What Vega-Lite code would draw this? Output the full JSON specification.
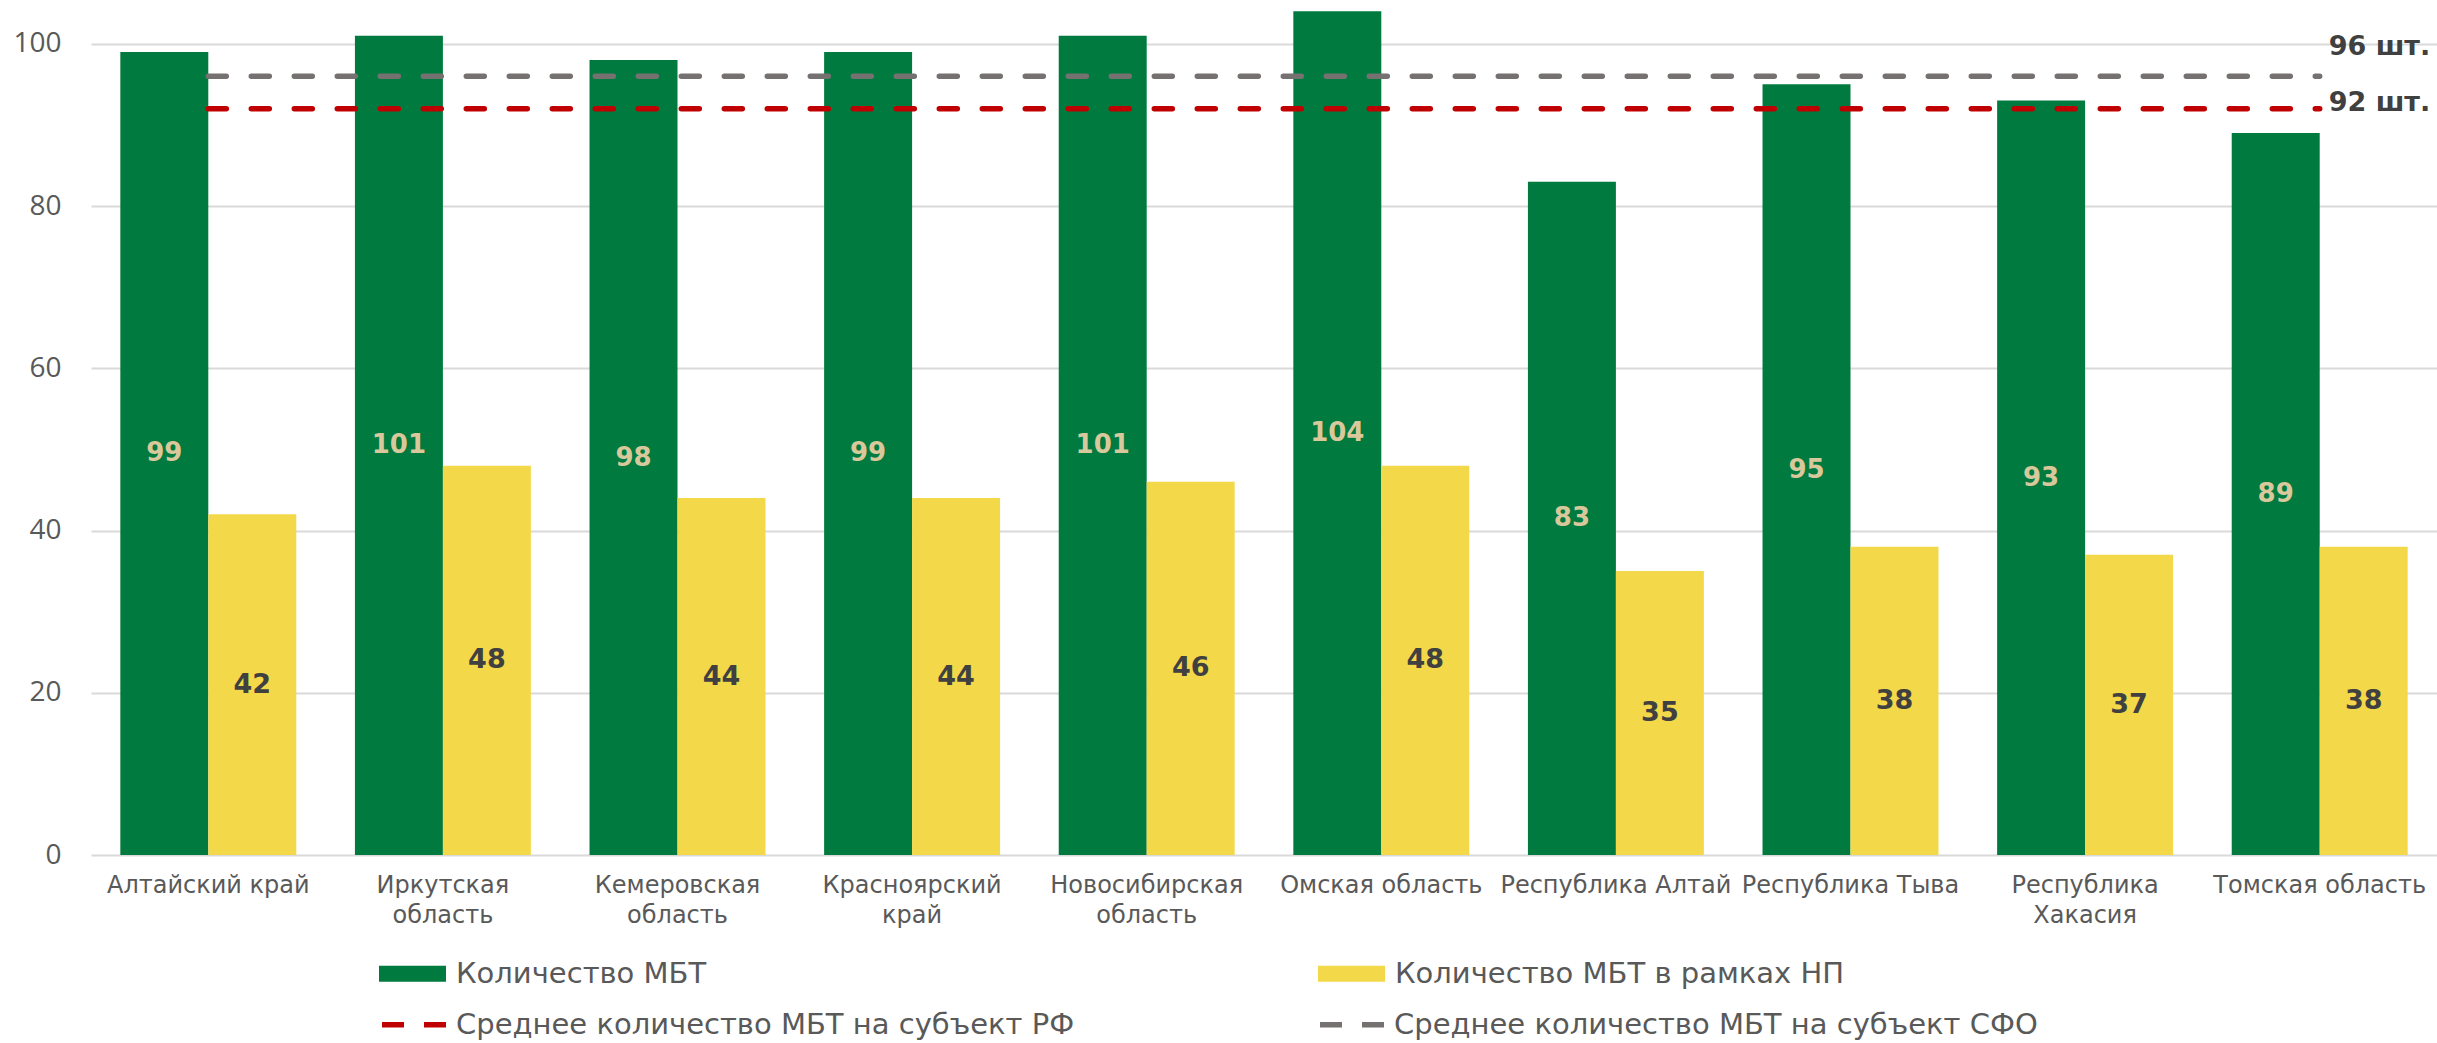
{
  "$schema": "https://vega.github.io/schema/vega-lite/v6.json",
  "autosize": {"type": "none"},
  "padding": {"left": 91, "top": 0, "right": 0, "bottom": 188},
  "width": 2346,
  "height": 855,
  "background": "white",
  "config": {"view": {"stroke": null}, "font": "DejaVu Sans"},
  "datasets": {
    "bars": [
      {"region": "Алтайский край", "Количество МБТ": 99, "Количество МБТ в рамках НП": 42},
      {"region": "Иркутская область", "Количество МБТ": 101, "Количество МБТ в рамках НП": 48},
      {"region": "Кемеровская область", "Количество МБТ": 98, "Количество МБТ в рамках НП": 44},
      {"region": "Красноярский край", "Количество МБТ": 99, "Количество МБТ в рамках НП": 44},
      {"region": "Новосибирская область", "Количество МБТ": 101, "Количество МБТ в рамках НП": 46},
      {"region": "Омская область", "Количество МБТ": 104, "Количество МБТ в рамках НП": 48},
      {"region": "Республика Алтай", "Количество МБТ": 83, "Количество МБТ в рамках НП": 35},
      {"region": "Республика Тыва", "Количество МБТ": 95, "Количество МБТ в рамках НП": 38},
      {"region": "Республика Хакасия", "Количество МБТ": 93, "Количество МБТ в рамках НП": 37},
      {"region": "Томская область", "Количество МБТ": 89, "Количество МБТ в рамках НП": 38}
    ],
    "avg": [
      {"series": "Среднее количество МБТ на субъект РФ", "value": 92, "label": "92 шт."},
      {"series": "Среднее количество МБТ на субъект СФО", "value": 96, "label": "96 шт."}
    ]
  },
  "resolve": {"scale": {"y": "independent"}},
  "layer": [
    {
      "data": {"name": "bars"},
      "transform": [{"fold": ["Количество МБТ", "Количество МБТ в рамках НП"], "as": ["series", "value"]}],
      "mark": {"type": "bar"},
      "encoding": {
        "x": {
          "field": "region", "type": "nominal", "sort": null,
          "scale": {"paddingInner": 0.25, "paddingOuter": 0.125},
          "axis": {
            "title": null, "labelAngle": 0, "ticks": false, "domain": false,
            "labelFont": "DejaVu Sans", "labelFontSize": 24, "labelColor": "#595959",
            "labelPadding": 18, "labelLineHeight": 30, "labelOverlap": false, "labelLimit": 0,
            "labelExpr": "length(datum.label) > 16 ? split(datum.label, ' ') : datum.label"
          }
        },
        "xOffset": {"field": "series", "type": "nominal", "sort": ["Количество МБТ", "Количество МБТ в рамках НП"]},
        "y": {
          "field": "value", "type": "quantitative",
          "scale": {"domain": [0, 105.4], "nice": false},
          "axis": {
            "title": null, "values": [0, 20, 40, 60, 80, 100], "domain": false, "ticks": false,
            "grid": true, "gridColor": "#D9D9D9", "gridWidth": 2,
            "labelFont": "Open Sans", "labelFontSize": 28, "labelColor": "#595959", "labelPadding": 30
          }
        },
        "color": {
          "field": "series", "type": "nominal",
          "scale": {"domain": ["Количество МБТ", "Количество МБТ в рамках НП"], "range": ["#007A3E", "#F3D84A"]},
          "legend": {
            "title": null, "orient": "none", "legendX": 288, "legendY": 940, "direction": "horizontal",
            "padding": 0, "columnPadding": 611,
            "symbolType": "M-1,-0.24H1V0.24H-1Z", "symbolSize": 4489, "symbolStrokeWidth": 0,
            "labelFont": "DejaVu Sans", "labelFontSize": 29, "labelColor": "#595959", "labelOffset": 10, "labelLimit": 0
          }
        }
      }
    },
    {
      "data": {"name": "bars"},
      "transform": [
        {"fold": ["Количество МБТ", "Количество МБТ в рамках НП"], "as": ["series", "value"]},
        {"filter": "datum.series == 'Количество МБТ'"}
      ],
      "mark": {"type": "text", "fontSize": 26, "fontWeight": "bold", "font": "DejaVu Sans", "color": "#D9C89B", "baseline": "middle"},
      "encoding": {
        "x": {"field": "region", "type": "nominal", "sort": null},
        "xOffset": {"field": "series", "type": "nominal", "sort": ["Количество МБТ", "Количество МБТ в рамках НП"]},
        "y": {"field": "value", "type": "quantitative", "scale": {"domain": [0, 210.8], "nice": false}, "axis": null},
        "text": {"field": "value", "type": "quantitative"}
      }
    },
    {
      "data": {"name": "bars"},
      "transform": [
        {"fold": ["Количество МБТ", "Количество МБТ в рамках НП"], "as": ["series", "value"]},
        {"filter": "datum.series == 'Количество МБТ в рамках НП'"}
      ],
      "mark": {"type": "text", "fontSize": 27, "fontWeight": "bold", "font": "DejaVu Sans", "color": "#404040", "baseline": "middle"},
      "encoding": {
        "x": {"field": "region", "type": "nominal", "sort": null},
        "xOffset": {"field": "series", "type": "nominal", "sort": ["Количество МБТ", "Количество МБТ в рамках НП"]},
        "y": {"field": "value", "type": "quantitative", "scale": {"domain": [0, 210.8], "nice": false}, "axis": null},
        "text": {"field": "value", "type": "quantitative"}
      }
    },
    {
      "data": {"name": "avg"},
      "mark": {"type": "rule", "strokeWidth": 5.5, "strokeDash": [18, 25], "strokeCap": "round"},
      "encoding": {
        "x": {"datum": "Алтайский край", "type": "nominal", "bandPosition": 0.5},
        "x2": {"datum": "Томская область"},
        "y": {"field": "value", "type": "quantitative", "scale": {"domain": [0, 105.4], "nice": false}, "axis": null},
        "stroke": {
          "field": "series", "type": "nominal",
          "scale": {"domain": ["Среднее количество МБТ на субъект РФ", "Среднее количество МБТ на субъект СФО"], "range": ["#C00000", "#767171"]},
          "legend": {
            "title": null, "orient": "none", "legendX": 288, "legendY": 988, "direction": "horizontal",
            "padding": 0, "columnPadding": 234,
            "symbolType": "stroke", "symbolSize": 4489, "symbolStrokeWidth": 5.5, "symbolDash": [22, 20],
            "labelFont": "DejaVu Sans", "labelFontSize": 29, "labelColor": "#595959", "labelOffset": 4, "labelLimit": 0
          }
        }
      }
    },
    {
      "data": {"name": "avg"},
      "transform": [{"filter": "datum.value == 96"}],
      "mark": {"type": "text", "fontSize": 27, "fontWeight": "bold", "font": "DejaVu Sans", "color": "#404040", "align": "left", "baseline": "middle", "dx": 9, "dy": -29},
      "encoding": {
        "x": {"datum": "Томская область", "type": "nominal", "bandPosition": 0.5},
        "y": {"field": "value", "type": "quantitative", "scale": {"domain": [0, 105.4], "nice": false}, "axis": null},
        "text": {"field": "label"}
      }
    },
    {
      "data": {"name": "avg"},
      "transform": [{"filter": "datum.value == 92"}],
      "mark": {"type": "text", "fontSize": 27, "fontWeight": "bold", "font": "DejaVu Sans", "color": "#404040", "align": "left", "baseline": "middle", "dx": 9, "dy": -6},
      "encoding": {
        "x": {"datum": "Томская область", "type": "nominal", "bandPosition": 0.5},
        "y": {"field": "value", "type": "quantitative", "scale": {"domain": [0, 105.4], "nice": false}, "axis": null},
        "text": {"field": "label"}
      }
    }
  ]
}
